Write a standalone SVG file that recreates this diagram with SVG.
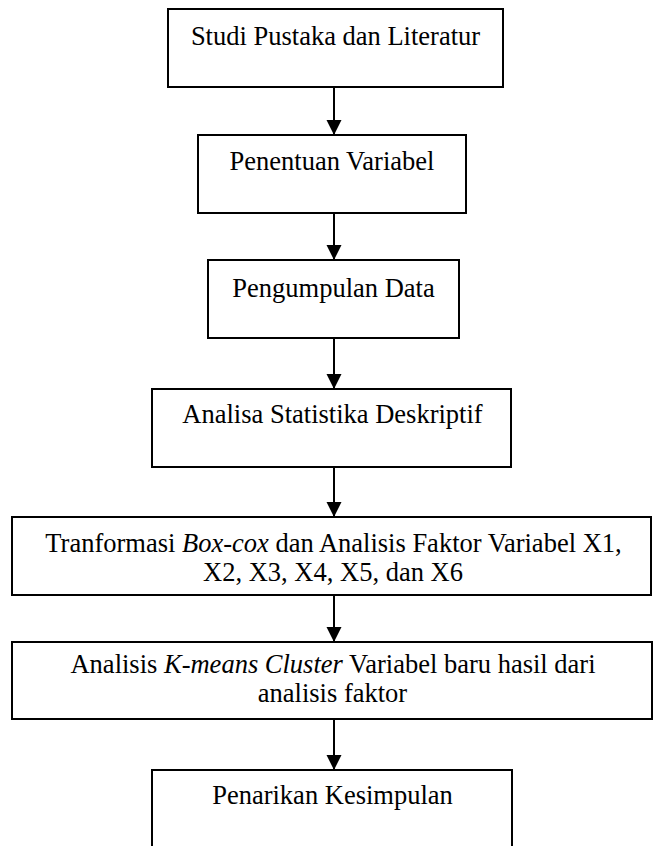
<svg xmlns="http://www.w3.org/2000/svg" width="653" height="846" viewBox="0 0 653 846">
<defs>
<style>
.box{fill:#fff;stroke:#000;stroke-width:2}
.t{font-family:"Liberation Serif","Times New Roman",serif;font-size:26.5px;fill:#000;text-anchor:middle}
.i{font-style:italic}
.c{stroke:#000;stroke-width:2;fill:none}
</style>
<marker id="ah" markerUnits="userSpaceOnUse" markerWidth="16" markerHeight="16" viewBox="0 0 16 16" refX="15" refY="8" orient="auto">
<path d="M0,0.5 L15,8 L0,15.5 Z" fill="#000"/>
</marker>
</defs>
<rect width="653" height="846" fill="#fff"/>
<g id="connectors">
<line class="c" x1="334" y1="87" x2="334" y2="135" marker-end="url(#ah)"/>
<line class="c" x1="334" y1="213" x2="334" y2="260" marker-end="url(#ah)"/>
<line class="c" x1="334" y1="338" x2="334" y2="389" marker-end="url(#ah)"/>
<line class="c" x1="334" y1="467" x2="334" y2="517" marker-end="url(#ah)"/>
<line class="c" x1="334" y1="595" x2="334" y2="642" marker-end="url(#ah)"/>
<line class="c" x1="334" y1="719" x2="334" y2="770" marker-end="url(#ah)"/>
</g>
<g id="n1">
<rect class="box" x="168" y="9" width="335" height="78"/>
<text class="t" x="335.5" y="45">Studi Pustaka dan Literatur</text>
</g>
<g id="n2">
<rect class="box" x="198" y="135" width="268" height="78"/>
<text class="t" x="332" y="170">Penentuan Variabel</text>
</g>
<g id="n3">
<rect class="box" x="208" y="260" width="251" height="78"/>
<text class="t" x="333.5" y="297">Pengumpulan Data</text>
</g>
<g id="n4">
<rect class="box" x="152" y="389" width="359" height="78"/>
<text class="t" x="332.5" y="423">Analisa Statistika Deskriptif</text>
</g>
<g id="n5">
<rect class="box" x="12" y="517" width="639" height="78"/>
<text class="t" x="333.5" y="552">Tranformasi <tspan class="i">Box-cox</tspan> dan Analisis Faktor Variabel X1,</text>
<text class="t" x="333" y="581">X2, X3, X4, X5, dan X6</text>
</g>
<g id="n6">
<rect class="box" x="12" y="642" width="640" height="77"/>
<text class="t" x="333" y="673">Analisis <tspan class="i">K-means Cluster</tspan> Variabel baru hasil dari</text>
<text class="t" x="332.5" y="702">analisis faktor</text>
</g>
<g id="n7">
<rect class="box" x="152" y="770" width="360" height="100"/>
<text class="t" x="332.5" y="804">Penarikan Kesimpulan</text>
</g>
</svg>
